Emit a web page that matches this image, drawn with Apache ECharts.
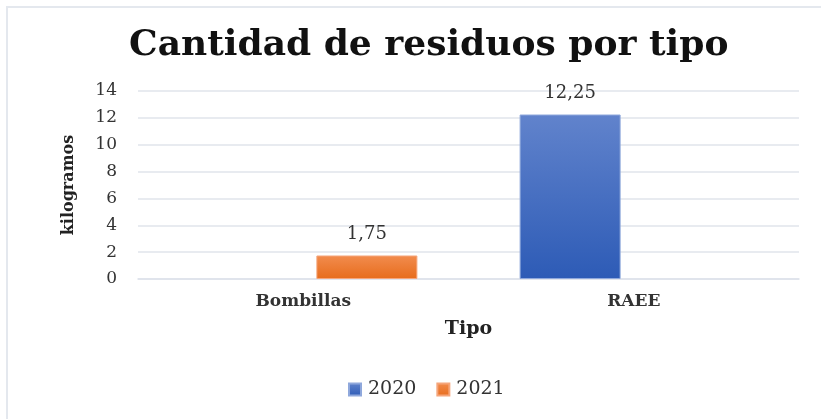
<!DOCTYPE html>
<html>
<head>
<meta charset="utf-8">
<script src="https://cdn.jsdelivr.net/npm/echarts@6/dist/echarts.min.js"></script>
<style>
html,body{margin:0;padding:0;background:#fff;}
#wrap{position:absolute;left:0;top:0;width:821px;height:419px;}
#frame{position:absolute;left:6px;top:6px;width:815px;height:413px;border-left:2px solid #e4e8ee;border-top:2px solid #e4e8ee;box-sizing:border-box;}
#chart{position:absolute;left:0;top:0;width:821px;height:419px;}
</style>
</head>
<body>
<div id="wrap"><div id="frame"></div><div id="chart"></div></div>
<script>
const categories = ['Bombillas', 'RAEE'];
const seriesNames = ['2020', '2021'];
const values2020 = [null, 12.25];
const values2021 = [1.75, null];
const yTicks = { min: 0, max: 14, interval: 2 };

const serif = 'DejaVu Serif';
const chart = echarts.init(document.getElementById('chart'), null, { renderer: 'canvas' });
const fmt = p => (p.value == null ? '' : String(p.value).replace('.', ','));
function grad(top, bottom) {
  return new echarts.graphic.LinearGradient(0, 0, 0, 1, [
    { offset: 0, color: top }, { offset: 1, color: bottom }
  ]);
}
chart.setOption({
  backgroundColor: 'transparent',
  animation: false,
  title: {
    text: 'Cantidad de residuos por tipo',
    left: 124, top: 23,
    textStyle: { fontFamily: serif, fontWeight: 'bold', fontSize: 36, color: '#111' }
  },
  legend: {
    data: seriesNames,
    top: 375, left: 343,
    itemWidth: 12, itemHeight: 12, itemGap: 20, icon: 'rect',
    textStyle: { fontFamily: serif, fontSize: 19, color: '#333', padding: [0, 0, 0, 2] }
  },
  grid: { left: 138, right: 22, top: 91, bottom: 140 },
  xAxis: {
    type: 'category', data: categories,
    name: 'Tipo', nameLocation: 'middle', nameGap: 41,
    nameTextStyle: { fontFamily: serif, fontWeight: 'bold', fontSize: 19, color: '#222' },
    axisLine: { lineStyle: { color: '#dde2ea', width: 1.5 } },
    axisTick: { show: false },
    axisLabel: { margin: 14, fontFamily: serif, fontWeight: 'bold', fontSize: 17, color: '#333' }
  },
  yAxis: {
    type: 'value', min: yTicks.min, max: yTicks.max, interval: yTicks.interval,
    name: 'kilogramos', nameLocation: 'middle', nameRotate: 90, nameGap: 61,
    nameTextStyle: { fontFamily: serif, fontWeight: 'bold', fontSize: 16, color: '#222' },
    axisLine: { show: false }, axisTick: { show: false },
    axisLabel: { margin: 21, fontFamily: serif, fontSize: 17, color: '#333' },
    splitLine: { lineStyle: { color: '#e0e4eb', width: 1.5 } }
  },
  series: [
    {
      name: seriesNames[0], type: 'bar', data: values2020,
      barWidth: 101, barGap: '26%',
      itemStyle: { color: grad('#6183cc', '#2d5bb6'), borderColor: '#8fa8dc', borderWidth: 1 },
      label: { show: true, position: 'top', distance: 12, formatter: fmt,
        fontFamily: serif, fontSize: 18, color: '#333' }
    },
    {
      name: seriesNames[1], type: 'bar', data: values2021,
      barWidth: 101,
      itemStyle: { color: grad('#f28c4e', '#e76c1c'), borderColor: '#f5a57a', borderWidth: 1 },
      label: { show: true, position: 'top', distance: 12, formatter: fmt,
        fontFamily: serif, fontSize: 18, color: '#333' }
    }
  ]
});
</script>
</body>
</html>
